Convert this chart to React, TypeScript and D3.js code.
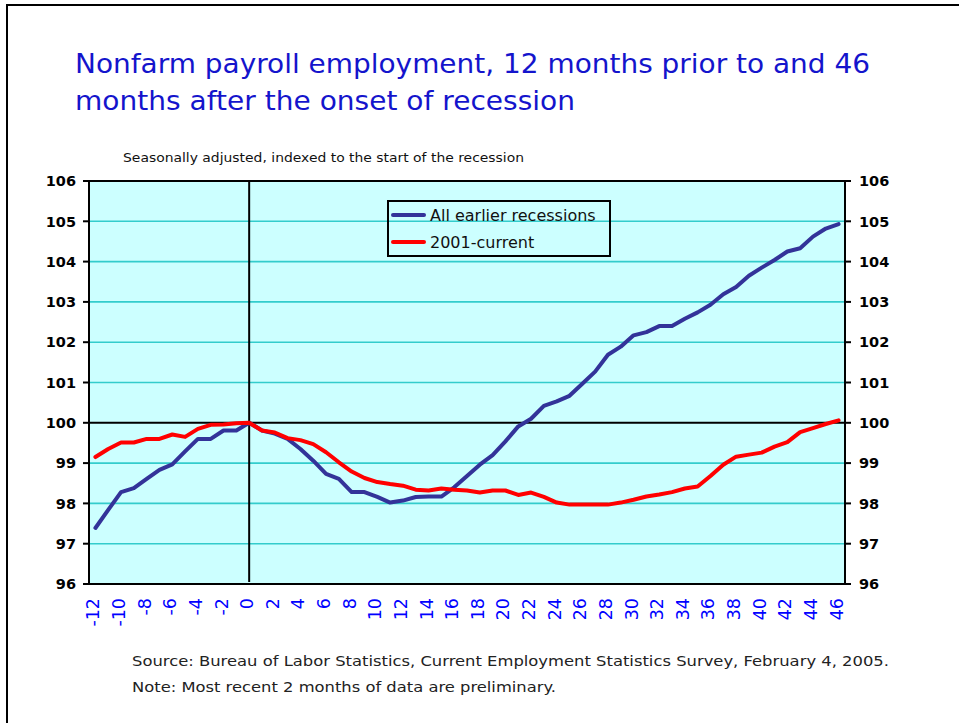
import React from "react";
import * as d3 from "d3";

const months: number[] = d3.range(-12, 47);
const earlierRecessions: number[] = [
  97.39, 97.84, 98.28, 98.38, 98.61, 98.83, 98.97, 99.29, 99.6, 99.6, 99.81, 99.81,
  100.0,
  99.81, 99.73, 99.6, 99.35, 99.06, 98.73, 98.61, 98.28, 98.28, 98.16, 98.02, 98.07,
  98.16, 98.17, 98.17, 98.4, 98.68, 98.96, 99.2, 99.54, 99.91, 100.1, 100.42, 100.53,
  100.67, 100.97, 101.27, 101.69, 101.89, 102.17, 102.25, 102.4, 102.4, 102.58, 102.74,
  102.93, 103.19, 103.37, 103.65, 103.85, 104.04, 104.25, 104.33, 104.62, 104.82, 104.93,
];
const current2001: number[] = [
  99.15, 99.35, 99.51, 99.51, 99.6, 99.6, 99.71, 99.65, 99.85, 99.95, 99.96, 99.99,
  100.0,
  99.81, 99.76, 99.62, 99.57, 99.47, 99.27, 99.02, 98.79, 98.63, 98.53, 98.48, 98.44,
  98.34, 98.32, 98.37, 98.34, 98.32, 98.27, 98.32, 98.32, 98.21, 98.27, 98.16, 98.02,
  97.97, 97.97, 97.97, 97.97, 98.02, 98.09, 98.17, 98.22, 98.28, 98.37, 98.42, 98.68,
  98.96, 99.16, 99.21, 99.26, 99.41, 99.52, 99.77, 99.87, 99.97, 100.06,
];
const yTicks: number[] = [96, 97, 98, 99, 100, 101, 102, 103, 104, 105, 106];
const xTickLabels: number[] = months.filter((m) => m % 2 === 0);
const seriesNames: string[] = ["All earlier recessions", "2001-current"];
const seriesColors: string[] = ["#333399", "#FF0000"];

const titleLines: string[] = [
  "Nonfarm payroll employment, 12 months prior to and 46",
  "months after the onset of recession",
];
const subtitle = "Seasonally adjusted, indexed to the start of the recession";
const footerLines: string[] = [
  "Source:  Bureau of Labor Statistics, Current Employment Statistics Survey, February 4, 2005.",
  "Note: Most recent 2 months of data are preliminary.",
];

const FONT = "'DejaVu Sans', Verdana, sans-serif";

export default function App() {
  const W = 959;
  const H = 723;
  const left = 89, right = 845, top = 181, bottom = 584;
  const x = d3.scalePoint<number>().domain(months).range([left, right]).padding(0.5);
  const y = d3.scaleLinear().domain([96, 106]).range([bottom, top]);
  const line = d3
    .line<number>()
    .x((_, i) => x(months[i]) as number)
    .y((d) => y(d));
  const series = [earlierRecessions, current2001];

  return (
    <svg
      width={W}
      height={H}
      style={{ position: "absolute", left: 0, top: 0, display: "block", background: "#fff" }}
      fontFamily={FONT}
    >
      <rect x={7} y={5} width={1000} height={800} fill="none" stroke="#000" strokeWidth={2} />
      {/* Title */}
      <text x={75} y={73} fontSize={27} fill="#1414CC" textLength={795} lengthAdjust="spacingAndGlyphs">
        {titleLines[0]}
      </text>
      <text x={75} y={110} fontSize={27} fill="#1414CC" textLength={500} lengthAdjust="spacingAndGlyphs">
        {titleLines[1]}
      </text>
      <text x={123} y={162} fontSize={12.5} fill="#111" textLength={401} lengthAdjust="spacingAndGlyphs">
        {subtitle}
      </text>

      {/* Plot background */}
      <rect x={left} y={top} width={right - left} height={bottom - top} fill="#CCFFFF" />
      {/* Grid lines */}
      {yTicks
        .filter((t) => t !== 96 && t !== 106 && t !== 100)
        .map((t) => (
          <line key={"g" + t} x1={left} x2={right} y1={y(t)} y2={y(t)} stroke="#33CCCC" strokeWidth={1.6} />
        ))}
      <line x1={left} x2={right} y1={y(100)} y2={y(100)} stroke="#000" strokeWidth={2} />
      <line x1={x(0)} x2={x(0)} y1={top} y2={bottom - 2} stroke="#000" strokeWidth={2} />

      {/* Series */}
      {series.map((s, i) => (
        <path
          key={"s" + i}
          d={line(s) || ""}
          fill="none"
          stroke={seriesColors[i]}
          strokeWidth={4}
          strokeLinejoin="round"
          strokeLinecap="round"
        />
      ))}

      {/* Plot frame */}
      <rect x={left} y={top} width={right - left} height={bottom - top} fill="none" stroke="#000" strokeWidth={2} />

      {/* Y ticks & labels */}
      {yTicks.map((t) => (
        <g key={"y" + t}>
          <line x1={left - 6} x2={left} y1={y(t)} y2={y(t)} stroke="#000" strokeWidth={2} />
          <line x1={right} x2={right + 6} y1={y(t)} y2={y(t)} stroke="#000" strokeWidth={2} />
          <text x={76} y={y(t)} dy="0.36em" textAnchor="end" fontSize={14.5} fontWeight="bold" fill="#000">
            {t}
          </text>
          <text x={859} y={y(t)} dy="0.36em" textAnchor="start" fontSize={14.5} fontWeight="bold" fill="#000">
            {t}
          </text>
        </g>
      ))}

      {/* X labels */}
      {xTickLabels.map((m) => (
        <text
          key={"x" + m}
          transform={`translate(${(x(m) as number) + 4},598) rotate(-90)`}
          textAnchor="end"
          fontSize={17.5}
          fill="#0000FF"
        >
          {m}
        </text>
      ))}

      {/* Legend */}
      <rect x={388} y={201} width={222} height={55} fill="none" stroke="#000" strokeWidth={2} />
      {seriesNames.map((n, i) => (
        <g key={"l" + i}>
          <line x1={393} x2={424} y1={215 + i * 27} y2={215 + i * 27} stroke={seriesColors[i]} strokeWidth={4} strokeLinecap="round" />
          <text x={430} y={215 + i * 27} dy="0.36em" fontSize={16} fill="#111">
            {n}
          </text>
        </g>
      ))}

      {/* Footer */}
      <text x={132} y={666} fontSize={14.5} fill="#222" textLength={757} lengthAdjust="spacingAndGlyphs">
        {footerLines[0]}
      </text>
      <text x={132} y={692} fontSize={14.5} fill="#222" textLength={424} lengthAdjust="spacingAndGlyphs">
        {footerLines[1]}
      </text>
    </svg>
  );
}
